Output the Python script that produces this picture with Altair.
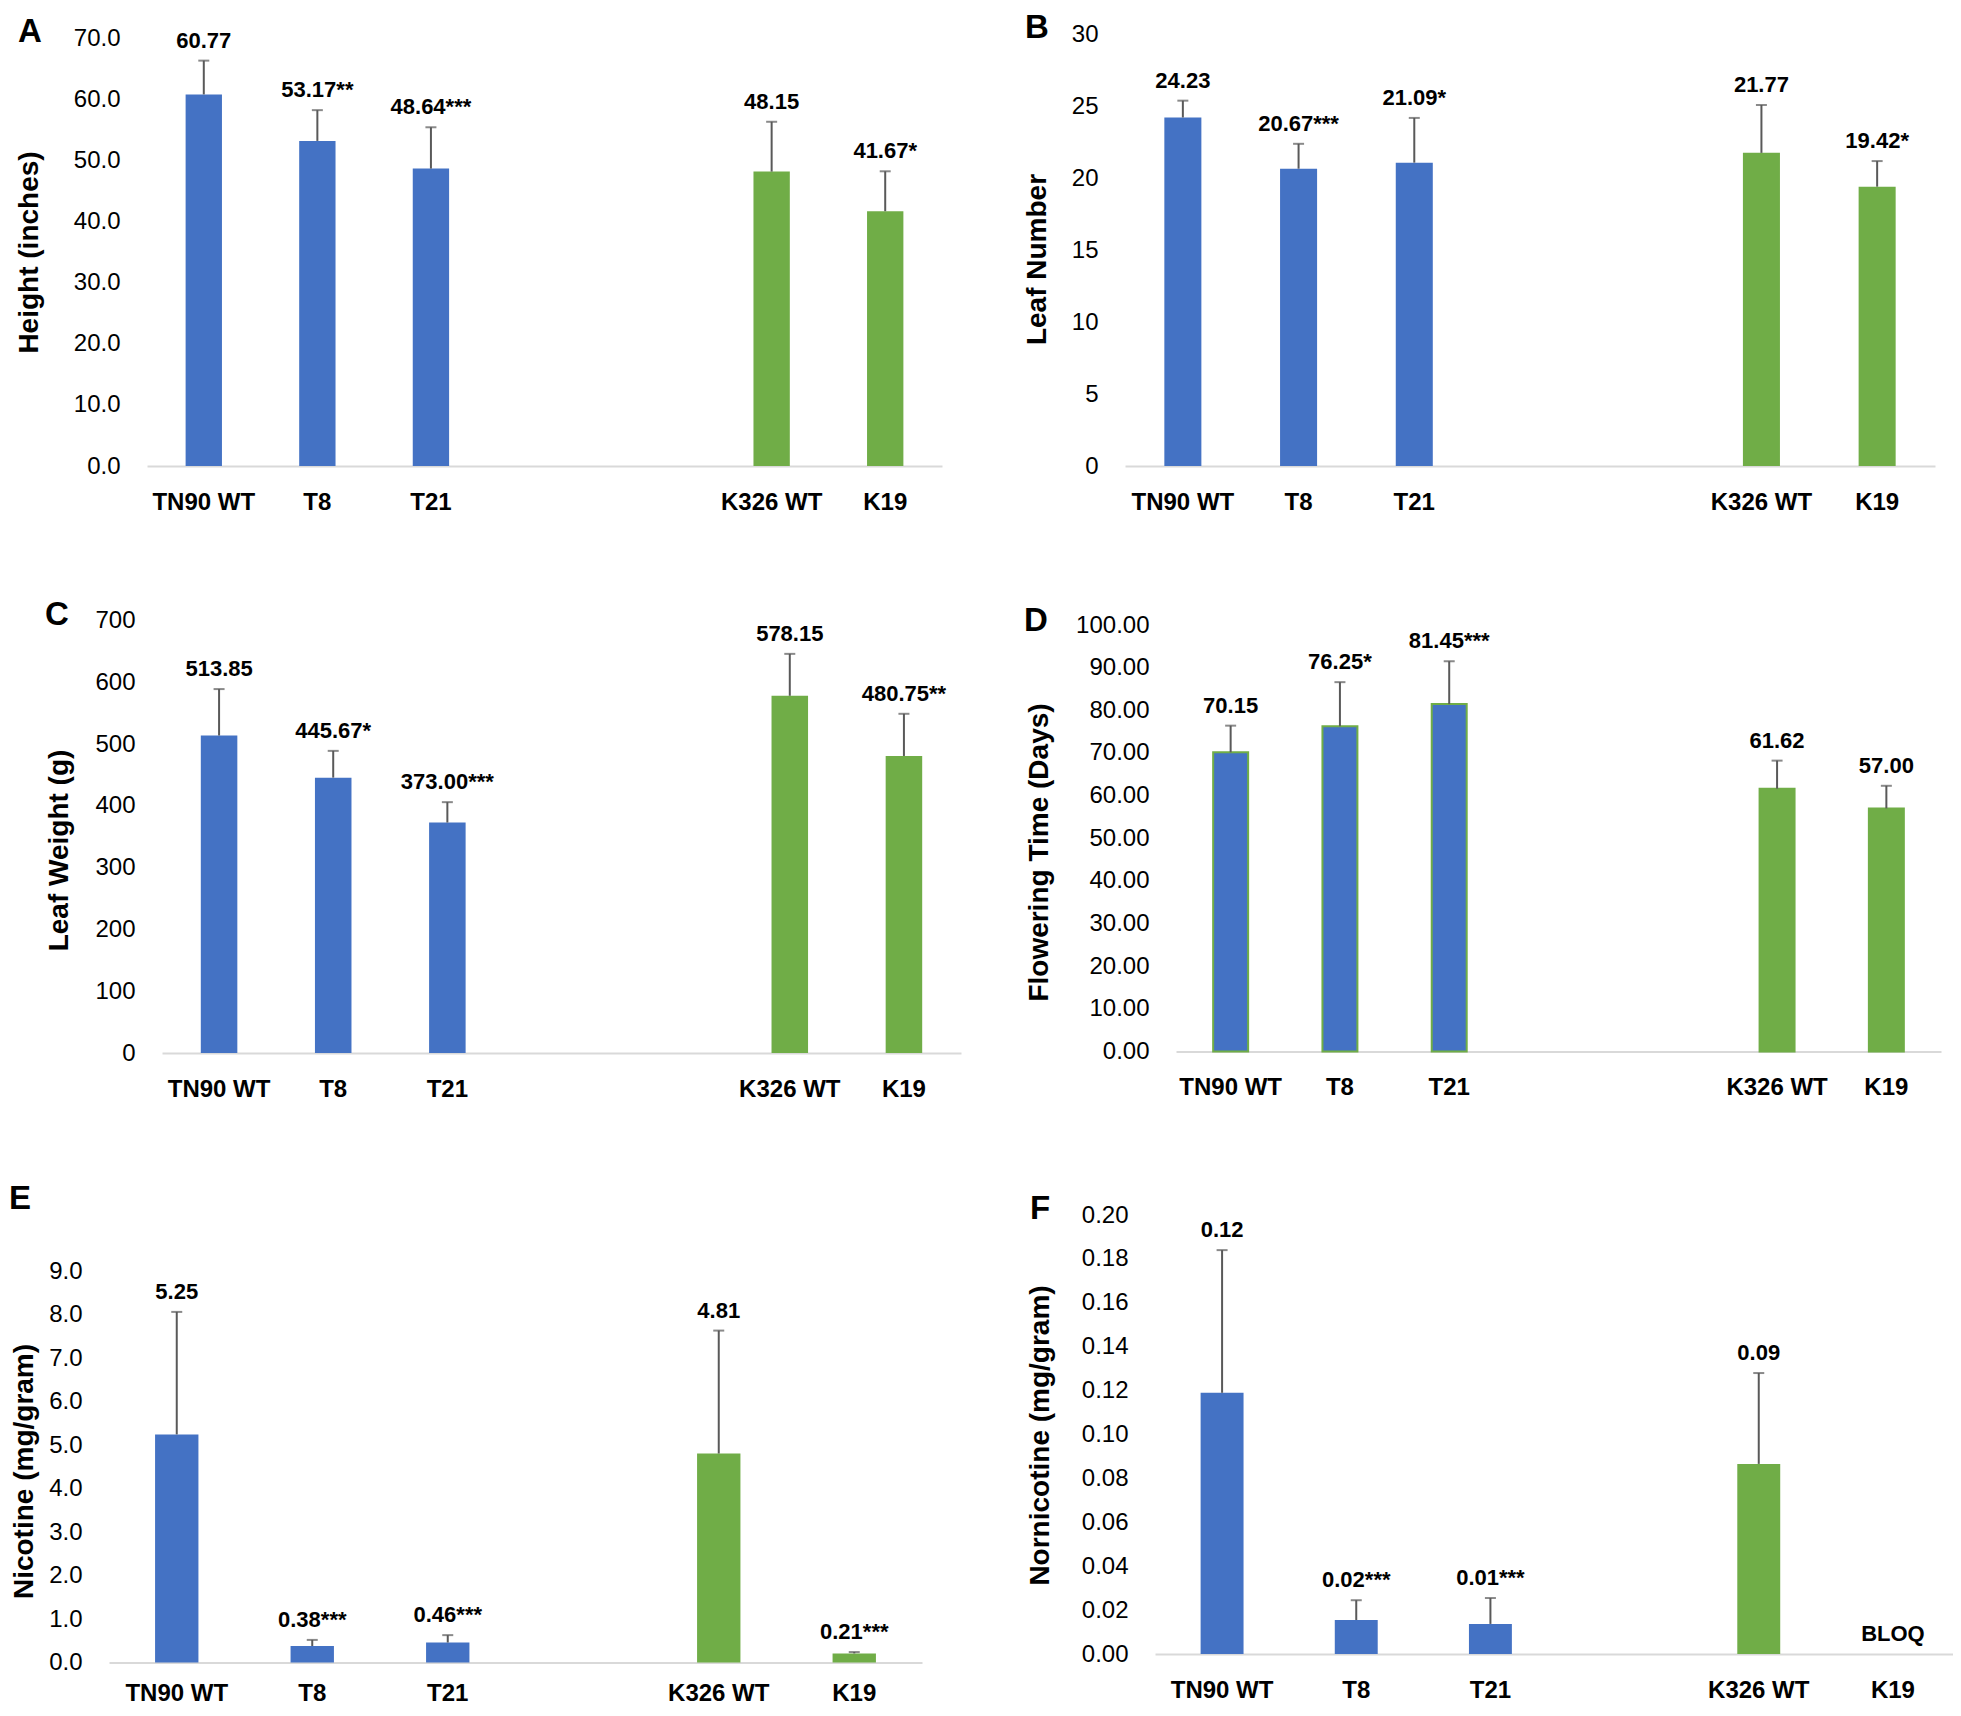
import altair as alt
import pandas as pd

# ---------------- data ----------------
lines = ["TN90 WT", "T8", "T21", "K326 WT", "K19"]
groups = ["TN90", "TN90", "TN90", "K326", "K326"]
cats7 = ["TN90 WT", "T8", "T21", " ", "  ", "K326 WT", "K19"]
cats6 = ["TN90 WT", "T8", "T21", " ", "K326 WT", "K19"]

height_val = [60.77, 53.17, 48.64, 48.15, 41.67]
height_err = [66.3, 58.2, 55.4, 56.3, 48.2]
height_lab = ["60.77", "53.17**", "48.64***", "48.15", "41.67*"]

leafn_val = [24.23, 20.67, 21.09, 21.77, 19.42]
leafn_err = [25.4, 22.4, 24.2, 25.1, 21.2]
leafn_lab = ["24.23", "20.67***", "21.09*", "21.77", "19.42*"]

leafw_val = [513.85, 445.67, 373.00, 578.15, 480.75]
leafw_err = [589, 489, 406, 646, 549]
leafw_lab = ["513.85", "445.67*", "373.00***", "578.15", "480.75**"]

flow_val = [70.15, 76.25, 81.45, 61.62, 57.00]
flow_err = [76.4, 86.6, 91.5, 68.2, 62.3]
flow_lab = ["70.15", "76.25*", "81.45***", "61.62", "57.00"]

nic_val = [5.25, 0.38, 0.46, 4.81, 0.21]
nic_err = [8.07, 0.52, 0.63, 7.64, 0.24]
nic_lab = ["5.25", "0.38***", "0.46***", "4.81", "0.21***"]

nor_val = [0.119, 0.0155, 0.0137, 0.0866, None]
nor_err = [0.184, 0.0245, 0.0255, 0.128, None]
nor_lab = ["0.12", "0.02***", "0.01***", "0.09", "BLOQ"]

# ---------------- layout (page pixels) ----------------
W, H = 1945, 1700
OFF = 8
FONT = "Liberation Sans"
BLUE, GREEN = "#4472C4", "#70AD47"
ERRC = "#595959"


def panel(letter, letter_pos, title, title_pos, cats, vals, errs, labels,
          ymax, ticks, fmt, xr, yr, stroke=False, xpad=24):
    df = pd.DataFrame({"cat": lines, "val": vals, "err": errs,
                       "label": labels, "grp": groups})
    df["anchor"] = df["err"].fillna(0)
    x0, x1 = xr[0] - OFF, xr[1] - OFF
    yb, yt = yr[0] - OFF, yr[1] - OFF
    xs = alt.Scale(domain=cats, range=[x0, x1], paddingInner=0.68, paddingOuter=0.34)
    ys = alt.Scale(domain=[0, ymax], range=[yb, yt], nice=False, zero=True)
    xax = alt.Axis(orient="bottom", offset=yb - H, title=None, labelAngle=0,
                   labelFont=FONT, labelFontSize=24, labelFontWeight="bold",
                   labelColor="black", labelPadding=xpad, ticks=False, tickSize=0,
                   domainColor="#D9D9D9", domainWidth=2, grid=False)
    yax = alt.Axis(orient="left", offset=-x0, values=ticks, format=fmt,
                   title=title, titleX=title_pos[0] - xr[0], titleY=title_pos[1] - OFF,
                   titleAngle=270, titleAlign="center", titleBaseline="middle",
                   titleFont=FONT, titleFontSize=28, titleFontWeight="bold",
                   titleColor="black", labelFont=FONT, labelFontSize=24,
                   labelColor="black", labelPadding=27, ticks=False, tickSize=0,
                   domain=False, grid=False)
    X = lambda: alt.X("cat:N", scale=xs, axis=xax)
    color = alt.Color("grp:N", scale=alt.Scale(domain=["TN90", "K326"], range=[BLUE, GREEN]),
                      legend=None)
    base = alt.Chart(df)
    bar_kw = dict(stroke=GREEN, strokeWidth=2) if stroke else {}
    bars = base.mark_bar(**bar_kw).encode(
        x=X(),
        y=alt.Y("val:Q", scale=ys, axis=yax),
        color=color,
    ).transform_filter("isValid(datum.val)")
    rules = base.mark_rule(color=ERRC, strokeWidth=2).encode(
        x=X(),
        y=alt.Y("val:Q", scale=ys, axis=yax),
        y2="err:Q",
    ).transform_filter("isValid(datum.err)")
    caps = base.mark_tick(color=ERRC, size=11, thickness=2).encode(
        x=X(),
        y=alt.Y("err:Q", scale=ys, axis=yax),
    ).transform_filter("isValid(datum.err)")
    text = base.mark_text(font=FONT, fontSize=22, fontWeight="bold", baseline="middle",
                          dy=-20, color="black").encode(
        x=X(),
        y=alt.Y("anchor:Q", scale=ys, axis=yax),
        text="label:N",
    )
    let = alt.Chart(pd.DataFrame({"t": [letter]})).mark_text(
        font=FONT, fontSize=33, fontWeight="bold", align="left",
        baseline="alphabetic", color="black").encode(
        x=alt.value(letter_pos[0] - OFF), y=alt.value(letter_pos[1] - OFF), text="t:N")
    return alt.layer(bars, rules, caps, text, let)


pA = panel("A", (18, 42), "Height (inches)", (29, 252), cats7, height_val, height_err,
           height_lab, 70, list(range(0, 71, 10)), ".1f", (147, 942), (466, 38))
pB = panel("B", (1025, 38), "Leaf Number", (1037, 259), cats7, leafn_val, leafn_err,
           leafn_lab, 30, list(range(0, 31, 5)), "d", (1125, 1935), (466, 34.5))
pC = panel("C", (45, 625), "Leaf Weight (g)", (59, 850), cats7, leafw_val, leafw_err,
           leafw_lab, 700, list(range(0, 701, 100)), "d", (162, 961), (1053, 620.5))
pD = panel("D", (1024, 631), "Flowering Time (Days)", (1039, 852), cats7, flow_val,
           flow_err, flow_lab, 100, list(range(0, 101, 10)), ".2f", (1176, 1941),
           (1051.5, 625), stroke=True)
pE = panel("E", (9, 1209), "Nicotine (mg/gram)", (24, 1471), cats6, nic_val, nic_err,
           nic_lab, 9, list(range(0, 10)), ".1f", (109, 922), (1662.5, 1271.5), xpad=19)
pF = panel("F", (1030, 1219), "Nornicotine (mg/gram)", (1040, 1435), cats6, nor_val,
           nor_err, nor_lab, 0.2, [round(0.02 * i, 2) for i in range(11)], ".2f",
           (1155, 1960), (1654, 1215))

chart = alt.layer(pA, pB, pC, pD, pE, pF).resolve_scale(
    x="independent", y="independent"
).properties(
    width=W, height=H, padding=0,
    autosize=alt.AutoSizeParams(type="none"),
).configure(background="white").configure_view(stroke=None)

chart.save("out.html", embed_options={"renderer": "svg", "actions": False})
